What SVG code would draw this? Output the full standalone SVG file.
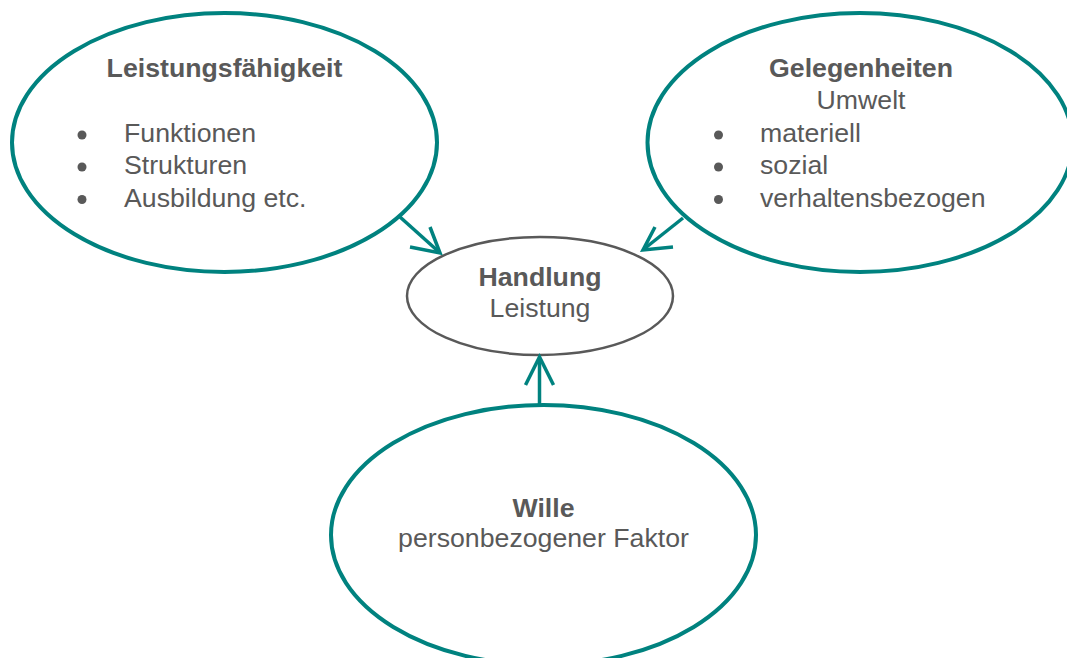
<svg xmlns="http://www.w3.org/2000/svg" width="1067" height="658" viewBox="0 0 1067 658">
<style>
.big{fill:#ffffff;stroke:#00827F;stroke-width:4}
.mid{fill:#ffffff;stroke:#595959;stroke-width:2.5}
.t{font-family:"Liberation Sans",Arial,sans-serif;font-size:26.7px;fill:#595959}
.b{font-weight:bold}
.c{text-anchor:middle}
.bul{fill:#595959}
.con{fill:none;stroke:#00827F;stroke-width:3.5;stroke-linecap:butt;stroke-linejoin:miter}
</style>
<rect width="1067" height="658" fill="#ffffff"/>
<g id="leistungsfaehigkeit">
<ellipse class="big" cx="224.5" cy="142.5" rx="212.5" ry="129.5"/>
<text class="t b c" x="224.5" y="77">Leistungsfähigkeit</text>
<circle class="bul" cx="82" cy="135" r="4.5"/>
<circle class="bul" cx="82" cy="167" r="4.5"/>
<circle class="bul" cx="82" cy="199.5" r="4.5"/>
<text class="t" x="124" y="142">Funktionen</text>
<text class="t" x="124" y="174">Strukturen</text>
<text class="t" x="124" y="206.5">Ausbildung etc.</text>
</g>
<g id="gelegenheiten">
<ellipse class="big" cx="860" cy="142.5" rx="212.5" ry="129.5"/>
<text class="t b c" x="861" y="77">Gelegenheiten</text>
<text class="t c" x="861" y="108.5">Umwelt</text>
<circle class="bul" cx="718.5" cy="135" r="4.5"/>
<circle class="bul" cx="718.5" cy="167" r="4.5"/>
<circle class="bul" cx="718.5" cy="199.5" r="4.5"/>
<text class="t" x="760" y="142">materiell</text>
<text class="t" x="760" y="174">sozial</text>
<text class="t" x="760" y="206.5">verhaltensbezogen</text>
</g>
<g id="handlung">
<ellipse class="mid" cx="540" cy="296" rx="133" ry="59"/>
<text class="t b c" x="540" y="286">Handlung</text>
<text class="t c" x="540" y="316.5">Leistung</text>
</g>
<g id="wille">
<ellipse class="big" cx="543.5" cy="535" rx="212.5" ry="130"/>
<text class="t b c" x="543.5" y="516.5">Wille</text>
<text class="t c" x="543.5" y="546.5">personbezogener Faktor</text>
</g>
<g id="connectors">
<line class="con" x1="400" y1="217" x2="439" y2="252"/>
<polyline class="con" points="410,247 440,253 430,227"/>
<line class="con" x1="683" y1="218" x2="644" y2="249"/>
<polyline class="con" points="673,247 643,250 655,227"/>
<line class="con" x1="539.5" y1="405" x2="539.5" y2="358"/>
<polyline class="con" points="525.5,385 539.5,357 553.5,385"/>
</g>
</svg>
